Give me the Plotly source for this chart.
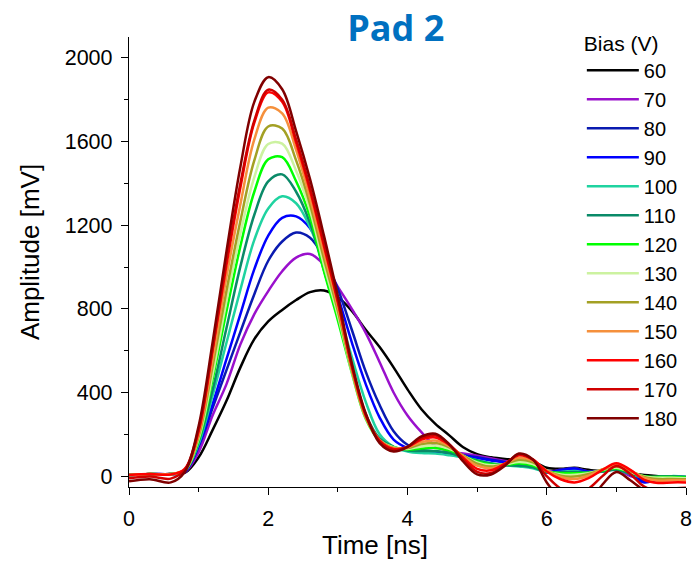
import plotly.graph_objects as go

# Time axis (ns)
t = [0, 0.3, 0.6, 0.8, 1.0, 1.2, 1.4, 1.6, 1.8, 2.0, 2.2, 2.4, 2.6, 2.8, 3.0, 3.2, 3.4, 3.6, 3.8, 4.0,
     4.2, 4.4, 4.6, 4.8, 5.0, 5.2, 5.4, 5.6, 5.8, 6.0, 6.2, 6.4, 6.6, 6.8, 7.0, 7.2, 7.4, 7.6, 7.8, 8.0]

# Amplitude (mV) per bias voltage
v60 = [5, 8, 10, 15, 90, 220, 360, 520, 655, 740, 795, 842, 880, 888, 855, 790, 700, 617, 520, 415,
       320, 250, 195, 138, 105, 90, 82, 78, 70, 40, 35, 40, 30, 25, 35, 15, 5, 0, -5, -10]
v70 = [5, 10, 10, 18, 115, 290, 440, 630, 775, 885, 980, 1045, 1062, 1010, 905, 800, 685, 545, 400, 290,
       210, 145, 118, 108, 98, 85, 72, 66, 58, 22, 30, 38, 22, 22, 32, 0, -15, -8, -3, -5]
v80 = [5, 10, 10, 20, 140, 325, 507, 690, 870, 1030, 1122, 1165, 1140, 1045, 895, 700, 500, 340, 215, 150,
       125, 118, 110, 100, 90, 78, 68, 60, 48, 18, 30, 38, 22, 25, 40, 8, -25, -15, -5, -5]
v90 = [5, 10, 10, 22, 147, 343, 559, 775, 990, 1150, 1235, 1242, 1185, 1050, 860, 640, 440, 280, 175, 135,
       120, 115, 108, 98, 86, 75, 65, 58, 45, 16, 28, 35, 20, 25, 43, 8, -30, -15, -5, -5]
v100 = [5, 10, 10, 24, 155, 385, 638, 892, 1130, 1280, 1338, 1305, 1190, 1010, 800, 570, 355, 200, 140, 118,
        110, 108, 100, 90, 76, 62, 52, 46, 38, 18, 20, 24, 16, 22, 32, 10, -8, -5, 0, -3]
v110 = [5, 10, 10, 25, 165, 412, 708, 1003, 1250, 1410, 1443, 1360, 1210, 985, 760, 510, 295, 180, 140, 122,
        120, 120, 110, 92, 75, 60, 52, 50, 42, 20, 18, 20, 16, 22, 30, 12, -3, -2, 0, -3]
v120 = [5, 10, 10, 27, 170, 462, 788, 1100, 1360, 1515, 1525, 1410, 1240, 980, 745, 495, 275, 170, 138, 127,
        132, 135, 122, 96, 70, 56, 54, 60, 50, 22, 14, 14, 16, 26, 36, 18, 0, -4, -4, -6]
v130 = [5, 10, 10, 28, 180, 485, 838, 1160, 1430, 1588, 1590, 1460, 1270, 1010, 770, 500, 278, 172, 137, 130,
        142, 146, 130, 98, 66, 52, 56, 68, 58, 24, 8, 6, 14, 30, 40, 20, -2, -8, -8, -10]
v140 = [5, 10, 10, 30, 190, 524, 887, 1220, 1510, 1672, 1662, 1510, 1300, 1040, 790, 505, 280, 172, 135, 134,
        153, 158, 138, 98, 60, 46, 58, 78, 66, 26, 2, -2, 10, 32, 46, 24, -4, -14, -14, -15]
v150 = [5, 10, 10, 32, 200, 556, 953, 1300, 1610, 1762, 1735, 1560, 1330, 1070, 810, 515, 285, 172, 133, 137,
        163, 170, 143, 95, 50, 38, 60, 88, 74, 26, -4, -14, 2, 32, 52, 28, -8, -22, -20, -20]
v160 = [5, 10, 8, 35, 215, 602, 1010, 1380, 1690, 1835, 1790, 1595, 1365, 1100, 830, 525, 290, 170, 130, 140,
        175, 185, 150, 88, 35, 28, 60, 100, 80, 22, -15, -30, -10, 30, 62, 30, -18, -33, -30, -30]
v170 = [-10, -2, -12, 30, 225, 609, 1033, 1400, 1700, 1848, 1800, 1610, 1380, 1115, 840, 530, 295, 165, 125, 140,
        182, 195, 152, 80, 20, 15, 55, 104, 78, 0, -60, -90, -60, 0, 48, 10, -50, -70, -60, -55]
v180 = [-25, -15, -30, 20, 240, 638, 1075, 1480, 1790, 1908, 1850, 1650, 1420, 1150, 860, 540, 300, 158, 118, 140,
        190, 203, 152, 70, 8, 8, 50, 108, 80, -30, -110, -150, -130, -40, 20, -20, -70, -110, -110, -100]

bias_labels = ["60", "70", "80", "90", "100", "110", "120", "130", "140", "150", "160", "170", "180"]
series = [v60, v70, v80, v90, v100, v110, v120, v130, v140, v150, v160, v170, v180]
colors = ["#000000", "#9A10CC", "#0A1AB0", "#0000FF", "#1FD3A0", "#0A8A68", "#00FF00", "#CCF2A0",
          "#A3A024", "#F5903C", "#FF0000", "#D00000", "#800000"]

FONT = "Liberation Sans, Arial, sans-serif"

fig = go.Figure()
for lab, ys, col in zip(bias_labels, series, colors):
    fig.add_trace(go.Scatter(x=t, y=ys, mode="lines", name=lab,
                             line=dict(color=col, width=2.5, shape="spline", smoothing=1.0)))

fig.update_layout(
    width=698, height=563,
    margin=dict(l=129, r=12, t=37, b=76, autoexpand=False),
    paper_bgcolor="white", plot_bgcolor="white",
    font=dict(family=FONT, size=21, color="black"),
    title=dict(text="<b>Pad 2</b>", x=0.479, xref="paper", xanchor="center",
               y=0.95, yanchor="middle",
               font=dict(family="Open Sans, sans-serif", size=36, color="#0070C0")),
    showlegend=True,
    legend=dict(x=0.813, xanchor="left", y=1.03, yanchor="top",
                bgcolor="rgba(0,0,0,0)", borderwidth=0, itemwidth=52, maxheight=540,
                title=dict(text="Bias (V)", font=dict(size=21)),
                font=dict(size=20)),
    annotations=[
        dict(text="Time [ns]", xref="paper", yref="paper", x=0.4408, y=-0.129,
             xanchor="center", yanchor="middle", showarrow=False, font=dict(size=26)),
        dict(text="Amplitude [mV]", xref="paper", yref="paper", x=-0.1777, y=0.522,
             xanchor="center", yanchor="middle", textangle=-90, showarrow=False, font=dict(size=26)),
    ],
)
fig.update_xaxes(range=[0, 8], dtick=2, tick0=0, showline=True, linecolor="black", linewidth=1.3,
                 ticks="outside", ticklen=7, tickwidth=1.3, tickcolor="black", showgrid=False, zeroline=False,
                 ticklabelstandoff=5, tickfont=dict(size=21.5),
                 minor=dict(ticks="outside", dtick=1, ticklen=4, tickwidth=1.3, tickcolor="black", showgrid=False))
fig.update_yaxes(range=[-52, 2100], dtick=400, tick0=0, showline=True, linecolor="black", linewidth=1.3,
                 ticks="outside", ticklen=7, tickwidth=1.3, tickcolor="black", showgrid=False, zeroline=False,
                 ticklabelstandoff=4, tickfont=dict(size=21.5),
                 minor=dict(ticks="outside", dtick=200, ticklen=4, tickwidth=1.3, tickcolor="black", showgrid=False))

fig.write_html("out.html")
